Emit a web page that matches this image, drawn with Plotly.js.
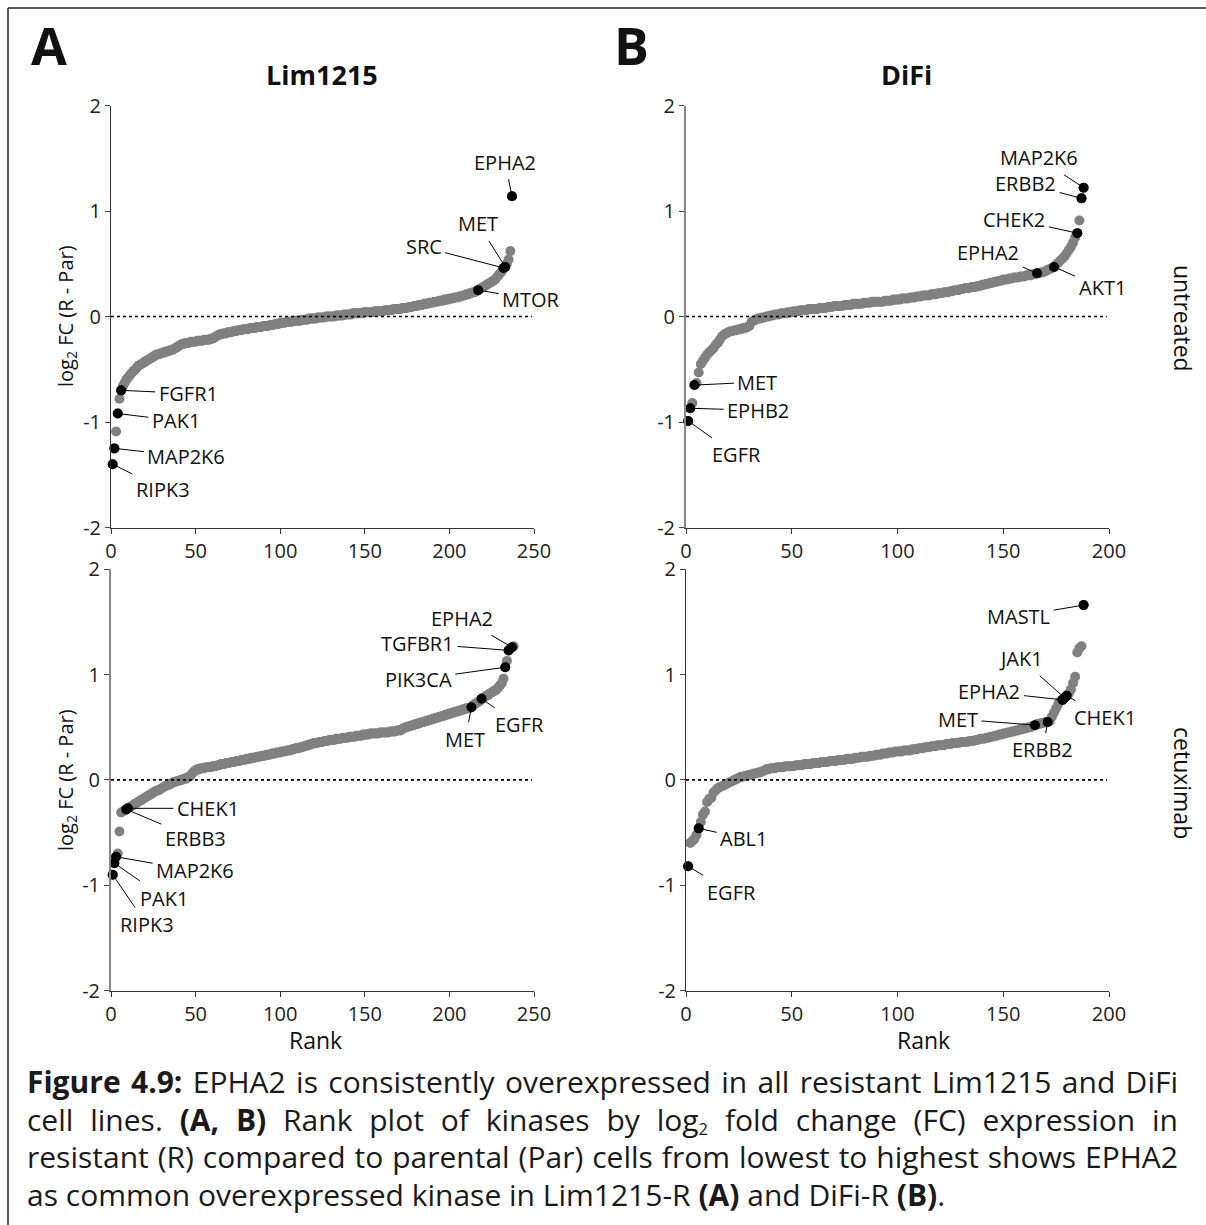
<!DOCTYPE html>
<html>
<head>
<meta charset="utf-8">
<script src="https://cdn.plot.ly/plotly-3.0.1.min.js"></script>
<style>
html,body{margin:0;padding:0;background:#fff;}
#wrap{position:relative;width:1206px;height:1225px;overflow:hidden;background:#fff;}
#chart{position:absolute;left:0;top:0;width:1206px;height:1225px;}
#caption{position:absolute;left:27px;top:1063px;width:1151px;font-family:'Open Sans',sans-serif;font-size:30px;line-height:37.5px;color:#1a1a1a;}
#caption .j{text-align:justify;text-align-last:justify;}
#caption .l{text-align:left;}
#caption.measure div{text-align:left !important;text-align-last:left !important;white-space:nowrap;}
#caption .sb{font-size:0.55em;line-height:1;position:relative;top:0.28em;}
</style>
</head>
<body>
<div id="wrap">
<div id="chart"></div>
<div id="caption">
<div class="j"><span><b>Figure 4.9:</b> EPHA2 is consistently overexpressed in all resistant Lim1215 and DiFi</span></div>
<div class="j"><span>cell lines. <b>(A, B)</b> Rank plot of kinases by log<span class="sb">2</span> fold change (FC) expression in</span></div>
<div class="j"><span>resistant (R) compared to parental (Par) cells from lowest to highest shows EPHA2</span></div>
<div class="l"><span>as common overexpressed kinase in Lim1215-R <b>(A)</b> and DiFi-R <b>(B)</b>.</span></div>
</div>
</div>
<script>
// ---------------- DATA ----------------
// log2 FC (R - Par) of kinases ordered by rank (rank = position in array, 1-based)
const limUntreated = [
-1.40,-1.25,-1.09,-0.92,-0.78,-0.70,-0.66,-0.63,-0.60,-0.58,
-0.56,-0.54,-0.52,-0.51,-0.49,-0.47,-0.46,-0.45,-0.44,-0.43,
-0.42,-0.41,-0.40,-0.39,-0.38,-0.37,-0.36,-0.36,-0.35,-0.35,
-0.34,-0.34,-0.33,-0.33,-0.32,-0.32,-0.31,-0.30,-0.29,-0.28,
-0.27,-0.26,-0.26,-0.25,-0.25,-0.25,-0.24,-0.24,-0.24,-0.24,
-0.23,-0.23,-0.23,-0.23,-0.22,-0.22,-0.22,-0.22,-0.21,-0.21,
-0.20,-0.19,-0.18,-0.17,-0.17,-0.16,-0.16,-0.16,-0.15,-0.15,
-0.15,-0.14,-0.14,-0.14,-0.13,-0.13,-0.13,-0.12,-0.12,-0.12,
-0.12,-0.11,-0.11,-0.11,-0.11,-0.10,-0.10,-0.10,-0.10,-0.09,
-0.09,-0.09,-0.09,-0.08,-0.08,-0.08,-0.07,-0.07,-0.07,-0.06,
-0.06,-0.06,-0.06,-0.05,-0.05,-0.05,-0.05,-0.04,-0.04,-0.04,
-0.04,-0.04,-0.03,-0.03,-0.03,-0.03,-0.02,-0.02,-0.02,-0.02,
-0.02,-0.01,-0.01,-0.01,-0.01,-0.01,0.00,0.00,0.00,0.00,
0.00,0.00,0.01,0.01,0.01,0.01,0.01,0.02,0.02,0.02,
0.02,0.02,0.03,0.03,0.03,0.03,0.03,0.03,0.04,0.04,
0.04,0.04,0.04,0.04,0.04,0.05,0.05,0.05,0.05,0.05,
0.05,0.06,0.06,0.06,0.06,0.06,0.07,0.07,0.07,0.07,
0.07,0.08,0.08,0.08,0.08,0.09,0.09,0.09,0.10,0.10,
0.10,0.11,0.11,0.11,0.12,0.12,0.12,0.13,0.13,0.13,
0.14,0.14,0.14,0.15,0.15,0.15,0.16,0.16,0.16,0.17,
0.17,0.17,0.18,0.18,0.18,0.19,0.19,0.20,0.20,0.21,
0.21,0.22,0.22,0.23,0.23,0.24,0.25,0.26,0.27,0.28,
0.29,0.30,0.31,0.32,0.33,0.34,0.35,0.37,0.39,0.41,
0.43,0.46,0.47,0.50,0.54,0.62,1.14];
const limUntreatedNames = ['RIPK3','MAP2K6','PAK1','FGFR1','MTOR','SRC','MET','EPHA2'];
const limUntreatedRanks = [1,2,4,6,217,232,233,237];

const difiUntreated = [
-0.99,-0.87,-0.82,-0.65,-0.63,-0.53,-0.45,-0.42,-0.39,-0.36,
-0.34,-0.32,-0.30,-0.27,-0.25,-0.22,-0.19,-0.17,-0.16,-0.15,
-0.14,-0.14,-0.13,-0.13,-0.12,-0.12,-0.11,-0.11,-0.10,-0.09,
-0.05,-0.04,-0.03,-0.02,-0.02,-0.01,-0.01,0.00,0.00,0.01,
0.01,0.02,0.02,0.02,0.03,0.03,0.03,0.04,0.04,0.04,
0.05,0.05,0.05,0.06,0.06,0.06,0.06,0.07,0.07,0.07,
0.07,0.07,0.08,0.08,0.08,0.08,0.09,0.09,0.09,0.10,
0.10,0.10,0.10,0.10,0.11,0.11,0.11,0.11,0.12,0.12,
0.12,0.12,0.12,0.13,0.13,0.13,0.13,0.14,0.14,0.14,
0.14,0.14,0.14,0.15,0.15,0.15,0.15,0.16,0.16,0.16,
0.16,0.17,0.17,0.17,0.17,0.18,0.18,0.18,0.19,0.19,
0.19,0.20,0.20,0.20,0.20,0.21,0.21,0.21,0.22,0.22,
0.22,0.23,0.23,0.23,0.24,0.24,0.25,0.25,0.25,0.26,
0.26,0.27,0.27,0.27,0.28,0.28,0.28,0.29,0.29,0.30,
0.30,0.31,0.31,0.32,0.32,0.33,0.33,0.34,0.34,0.35,
0.35,0.35,0.36,0.36,0.37,0.37,0.37,0.38,0.38,0.38,
0.39,0.39,0.39,0.40,0.40,0.41,0.41,0.42,0.42,0.43,
0.44,0.45,0.46,0.47,0.49,0.51,0.53,0.55,0.57,0.60,
0.63,0.66,0.70,0.75,0.79,0.91,1.12,1.22];
const difiUntreatedNames = ['EGFR','EPHB2','MET','EPHA2','AKT1','CHEK2','ERBB2','MAP2K6'];
const difiUntreatedRanks = [1,2,4,166,174,185,187,188];

const limCetuximab = [
-0.90,-0.79,-0.73,-0.70,-0.49,-0.31,-0.30,-0.29,-0.28,-0.27,
-0.26,-0.25,-0.24,-0.23,-0.22,-0.21,-0.20,-0.19,-0.18,-0.17,
-0.16,-0.15,-0.14,-0.13,-0.12,-0.11,-0.10,-0.10,-0.09,-0.08,
-0.07,-0.06,-0.05,-0.05,-0.04,-0.03,-0.02,-0.02,-0.01,-0.01,
0.00,0.00,0.01,0.01,0.02,0.03,0.04,0.06,0.08,0.09,
0.10,0.10,0.11,0.11,0.11,0.12,0.12,0.12,0.12,0.13,
0.13,0.13,0.14,0.14,0.15,0.15,0.15,0.16,0.16,0.16,
0.17,0.17,0.17,0.18,0.18,0.18,0.19,0.19,0.19,0.20,
0.20,0.20,0.21,0.21,0.21,0.22,0.22,0.22,0.23,0.23,
0.23,0.24,0.24,0.24,0.25,0.25,0.25,0.26,0.26,0.26,
0.27,0.27,0.27,0.28,0.28,0.28,0.29,0.29,0.30,0.30,
0.30,0.31,0.31,0.32,0.32,0.33,0.33,0.34,0.34,0.35,
0.35,0.35,0.36,0.36,0.36,0.37,0.37,0.37,0.38,0.38,
0.38,0.38,0.39,0.39,0.39,0.39,0.40,0.40,0.40,0.40,
0.41,0.41,0.41,0.41,0.42,0.42,0.42,0.42,0.43,0.43,
0.43,0.43,0.44,0.44,0.44,0.44,0.44,0.44,0.45,0.45,
0.45,0.45,0.45,0.45,0.46,0.46,0.46,0.46,0.47,0.47,
0.47,0.48,0.49,0.50,0.50,0.51,0.51,0.52,0.52,0.53,
0.53,0.54,0.54,0.55,0.55,0.56,0.56,0.57,0.57,0.58,
0.58,0.59,0.59,0.60,0.60,0.61,0.61,0.62,0.62,0.63,
0.63,0.64,0.64,0.65,0.65,0.66,0.66,0.67,0.67,0.68,
0.68,0.68,0.69,0.71,0.72,0.73,0.74,0.75,0.77,0.78,
0.79,0.80,0.81,0.82,0.83,0.84,0.85,0.86,0.88,0.90,
0.92,0.96,1.07,1.13,1.23,1.25,1.26,1.27];
const limCetuximabNames = ['RIPK3','PAK1','MAP2K6','ERBB3','CHEK1','MET','EGFR','PIK3CA','TGFBR1','EPHA2'];
const limCetuximabRanks = [1,2,3,9,10,213,219,233,235,237];

const difiCetuximab = [
-0.82,-0.60,-0.58,-0.56,-0.52,-0.46,-0.40,-0.33,-0.30,-0.21,
-0.18,-0.17,-0.12,-0.10,-0.08,-0.07,-0.06,-0.05,-0.04,-0.03,
-0.02,-0.01,0.00,0.01,0.02,0.03,0.03,0.04,0.04,0.05,
0.05,0.06,0.06,0.07,0.07,0.08,0.09,0.10,0.10,0.11,
0.11,0.11,0.12,0.12,0.12,0.12,0.13,0.13,0.13,0.13,
0.13,0.14,0.14,0.14,0.14,0.15,0.15,0.15,0.15,0.16,
0.16,0.16,0.16,0.17,0.17,0.17,0.17,0.18,0.18,0.18,
0.18,0.19,0.19,0.19,0.19,0.20,0.20,0.20,0.20,0.21,
0.21,0.21,0.22,0.22,0.22,0.22,0.23,0.23,0.23,0.24,
0.24,0.24,0.25,0.25,0.25,0.26,0.26,0.26,0.27,0.27,
0.27,0.27,0.28,0.28,0.28,0.28,0.29,0.29,0.29,0.30,
0.30,0.30,0.31,0.31,0.31,0.32,0.32,0.32,0.33,0.33,
0.33,0.33,0.34,0.34,0.34,0.35,0.35,0.35,0.35,0.36,
0.36,0.36,0.36,0.37,0.37,0.37,0.38,0.38,0.39,0.39,
0.39,0.40,0.40,0.41,0.41,0.42,0.42,0.43,0.43,0.44,
0.44,0.45,0.45,0.46,0.46,0.47,0.47,0.48,0.48,0.49,
0.49,0.50,0.50,0.51,0.52,0.53,0.53,0.54,0.54,0.55,
0.55,0.56,0.60,0.64,0.68,0.72,0.75,0.76,0.78,0.80,
0.82,0.86,0.92,0.98,1.21,1.25,1.27,1.66];
const difiCetuximabNames = ['EGFR','ABL1','MET','ERBB2','EPHA2','JAK1','CHEK1','MASTL'];
const difiCetuximabRanks = [1,6,165,171,178,179,180,188];

const yTickVals = [2,1,0,-1,-2];
const yTickText = ['2','1','0','-1','-2'];
const limTickVals = [0,50,100,150,200,250];
const difiTickVals = [0,50,100,150,200];

// ---------------- LABEL PLACEMENT (pixel offsets of label centre from its point) ----------------
const limUntreatedOffsets = [[50,25],[72,8],[58,7],[67,3],[53,9],[-80,-21],[-27,-43],[-7,-34]];
const difiUntreatedOffsets = [[48,34],[68,2],[63,-3],[-49,-21],[48,21],[-63,-14],[-56,-15],[-45,-30]];
const limCetuximabOffsets = [[34,50],[50,35],[79,14],[69,29],[80,0],[-6,32],[38,26],[-87,12],[-91,-7],[-50,-29]];
const difiCetuximabOffsets = [[43,26],[45,10],[-77,-6],[-5,28],[-73,-8],[-44,-39],[38,22],[-65,11]];

// ---------------- BUILD ----------------
const W = 1206, H = 1225;
const FONT = '"Open Sans", "DejaVu Sans", sans-serif';
const px = v => v / W;
const py = v => 1 - v / H;

const panels = [
  {vals: limUntreated, names: limUntreatedNames, ranks: limUntreatedRanks, offs: limUntreatedOffsets, xa: 'x', ya: 'y'},
  {vals: difiUntreated, names: difiUntreatedNames, ranks: difiUntreatedRanks, offs: difiUntreatedOffsets, xa: 'x2', ya: 'y2'},
  {vals: limCetuximab, names: limCetuximabNames, ranks: limCetuximabRanks, offs: limCetuximabOffsets, xa: 'x3', ya: 'y3'},
  {vals: difiCetuximab, names: difiCetuximabNames, ranks: difiCetuximabRanks, offs: difiCetuximabOffsets, xa: 'x4', ya: 'y4'}
];

const traces = [];
const annotations = [];
const shapes = [];

panels.forEach(p => {
  const ranks = p.vals.map((v, i) => i + 1);
  traces.push({
    type: 'scatter', mode: 'markers', x: ranks, y: p.vals, xaxis: p.xa, yaxis: p.ya,
    marker: {color: '#808080', size: 10, line: {width: 0}}, cliponaxis: false, hoverinfo: 'skip'
  });
  const hy = p.ranks.map(r => p.vals[r - 1]);
  traces.push({
    type: 'scatter', mode: 'markers', x: p.ranks, y: hy, xaxis: p.xa, yaxis: p.ya,
    marker: {color: '#000000', size: 10, line: {width: 0}}, cliponaxis: false, hoverinfo: 'skip'
  });
  p.names.forEach((n, i) => {
    annotations.push({
      x: p.ranks[i], y: hy[i], xref: p.xa, yref: p.ya, text: n,
      showarrow: true, arrowhead: 0, arrowwidth: 1, arrowcolor: '#000', standoff: 0,
      ax: p.offs[i][0], ay: p.offs[i][1], borderpad: 3,
      xanchor: 'center', yanchor: 'middle',
      font: {family: FONT, size: 20, color: '#111'}
    });
  });
  shapes.push({
    type: 'line', xref: p.xa + ' domain', yref: p.ya, x0: 0, x1: 0.995, y0: 0, y1: 0,
    line: {color: '#000', width: 1.6, dash: 'dot'}
  });
});

// frame of the figure
shapes.push({type: 'line', xref: 'paper', yref: 'paper', x0: px(8), x1: 1, y0: py(8), y1: py(8), line: {color: '#222', width: 1.5}});
shapes.push({type: 'line', xref: 'paper', yref: 'paper', x0: px(8), x1: px(8), y0: 0, y1: py(8), line: {color: '#222', width: 1.5}});

function txt(text, x, y, size, extra) {
  return Object.assign({
    text: text, x: px(x), y: py(y), xref: 'paper', yref: 'paper', showarrow: false,
    xanchor: 'center', yanchor: 'middle', font: {family: FONT, size: size, color: '#111'}
  }, extra || {});
}
annotations.push(txt('<b>A</b>', 49, 45, 52));
annotations.push(txt('<b>B</b>', 632, 45, 52));
annotations.push(txt('<b>Lim1215</b>', 322, 75, 27));
annotations.push(txt('<b>DiFi</b>', 906, 75, 27));
annotations.push(txt('log<sub>2</sub> FC (R - Par)', 66, 316, 20, {textangle: -90}));
annotations.push(txt('log<sub>2</sub> FC (R - Par)', 66, 780, 20, {textangle: -90}));
annotations.push(txt('untreated', 1183, 318, 23, {textangle: 90}));
annotations.push(txt('cetuximab', 1183, 783, 23, {textangle: 90}));
annotations.push(txt('Rank', 316, 1040, 23));
annotations.push(txt('Rank', 923, 1040, 23));

const xLeft = [px(111), px(534)];
const xRight = [px(686), px(1109)];
const yTop = [py(527.5), py(105.5)];
const yBot = [py(990.5), py(569.3)];

function yAxis(domain, anchor, color, width) {
  return {
    domain: domain, anchor: anchor, range: [-2, 2], tickvals: yTickVals, ticktext: yTickText,
    showline: true, linecolor: color, linewidth: width, ticks: 'outside', ticklen: 5, tickcolor: '#444', tickwidth: 1,
    showgrid: false, zeroline: false, tickfont: {family: FONT, size: 20, color: '#222'}, fixedrange: true
  };
}
function xAxis(domain, anchor, range, vals) {
  return {
    domain: domain, anchor: anchor, range: range, tickvals: vals, ticktext: vals.map(String),
    showline: true, linecolor: '#333', linewidth: 1, ticks: 'outside', ticklen: 5, tickcolor: '#333', tickwidth: 1,
    showgrid: false, zeroline: false, tickfont: {family: FONT, size: 20, color: '#222'}, fixedrange: true
  };
}

const layout = {
  width: W, height: H, margin: {l: 0, r: 0, t: 0, b: 0},
  paper_bgcolor: '#fff', plot_bgcolor: 'rgba(0,0,0,0)', showlegend: false, hovermode: false,
  font: {family: FONT, color: '#111'},
  xaxis: xAxis(xLeft, 'y', [0, 250], limTickVals),
  yaxis: yAxis(yTop, 'x', '#333', 1),
  xaxis2: xAxis(xRight, 'y2', [0, 200], difiTickVals),
  yaxis2: yAxis(yTop, 'x2', '#888', 2),
  xaxis3: xAxis(xLeft, 'y3', [0, 250], limTickVals),
  yaxis3: yAxis(yBot, 'x3', '#888', 2),
  xaxis4: xAxis(xRight, 'y4', [0, 200], difiTickVals),
  yaxis4: yAxis(yBot, 'x4', '#333', 1),
  annotations: annotations,
  shapes: shapes
};

Plotly.newPlot('chart', traces, layout, {staticPlot: true, displayModeBar: false});

// fit the caption font so that the longest justified line just fits the text block
function fitCaption() {
  const cap = document.getElementById('caption');
  const base = 30;
  cap.style.fontSize = base + 'px';
  cap.classList.add('measure');
  let maxW = 0;
  cap.querySelectorAll('.j > span').forEach(s => { maxW = Math.max(maxW, s.getBoundingClientRect().width); });
  cap.classList.remove('measure');
  const target = 1140;
  const size = maxW > target ? base * target / maxW : base;
  cap.style.fontSize = size.toFixed(2) + 'px';
}
fitCaption();
if (document.fonts && document.fonts.ready) { document.fonts.ready.then(fitCaption); }
</script>
</body>
</html>
